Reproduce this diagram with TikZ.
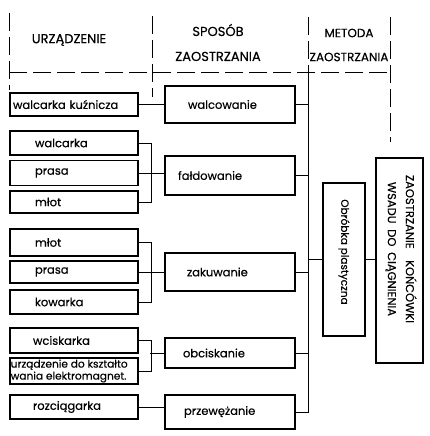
\documentclass[tikz,border=0pt]{standalone}
\usepackage{fontspec}
\setmainfont{Poppins}[FakeBold=0.4]
\begin{document}
\begin{tikzpicture}[x=1pt,y=-1pt,
  font=\fontsize{11.5}{13}\selectfont,
  box/.style={draw, line width=1.2pt, inner xsep=3pt, inner ysep=0pt},
  lbox/.style={box, minimum width=128pt, text width=122pt, align=left},
  rbox/.style={box, minimum width=130pt, text width=124pt, align=left},
  div/.style={line width=0.9pt, dash pattern=on 18pt off 6pt},
  con/.style={line width=1pt},
  head/.style={inner sep=0pt, align=center}]
\fill[white] (0,0) rectangle (430,436);
\useasboundingbox (0,0) rectangle (430,436);
% header
\draw[div] (9,13) -- (9,90);
\draw[div] (152,16) -- (152,97);
\draw[div] (308,17) -- (308,72);
\draw[div] (390,17) -- (390,142);
\draw[div] (9,72) -- (390,72);
\node[head, font=\fontsize{13}{15}\selectfont] (h1) at (69,40) {URZĄDZENIE};
\node[head, font=\fontsize{13}{25}\selectfont] (h2) at (218,42.5) {SPOSÓB\\ZAOSTRZANIA};
\node[head, font=\fontsize{12}{24}\selectfont] (h3) at (349,45) {METODA\\ZAOSTRZANIA};
% left column
\node[lbox, minimum height=23pt] (wk) at (74,104.5) {walcarka kuźnicza};
\node[lbox, minimum height=24pt] (wa) at (74,143) {\hspace*{22pt}walcarka};
\node[lbox, minimum height=25pt] (pr1) at (74,173) {\hspace*{22pt}prasa};
\node[lbox, minimum height=22pt] (ml1) at (74,202) {\hspace*{22pt}młot};
\node[lbox, minimum height=27pt] (ml2) at (74,242.5) {\hspace*{22pt}młot};
\node[lbox, minimum height=22pt] (pr2) at (74,272) {\hspace*{22pt}prasa};
\node[lbox, minimum height=24pt] (kow) at (74,302) {\hspace*{22pt}kowarka};
\node[lbox, minimum height=25pt] (wci) at (74,340.5) {\hspace*{20pt}wciskarka};
\node[box, minimum width=128pt, minimum height=26pt] (urz) at (74,371) {};
\node[inner sep=0pt, anchor=west, align=left, font=\fontsize{10.6}{12}\selectfont] (urzt) at (10.5,371) {urządzenie do kształto\\wania elektromagnet.};
\node[lbox, minimum height=24pt] (roz) at (74,407) {\hspace*{20pt}rozciągarka};
% middle column
\node[rbox, minimum height=37pt] (walc) at (230,104.5) {\hspace*{20pt}walcowanie};
\node[rbox, minimum height=39pt] (fald) at (230,175.5) {\hspace*{10pt}fałdowanie};
\node[rbox, minimum height=38pt] (zak) at (230,272) {\hspace*{19pt}zakuwanie};
\node[rbox, minimum height=30pt] (obc) at (230,353) {\hspace*{15pt}obciskanie};
\node[rbox, minimum height=34pt] (prz) at (230,412) {\hspace*{16pt}przewężanie};
% right
\node[box, minimum width=42pt, minimum height=153pt] (obr) at (344,259.5) {};
\node[rotate=-90, inner sep=0pt, font=\fontsize{10.5}{12}\selectfont] (obrt) at (344,252) {Obróbka plastyczna};
\node[box, minimum width=47pt, minimum height=205pt] (zao) at (399.5,260.5) {};
\node[rotate=-90, inner sep=0pt, align=center, font=\fontsize{11.5}{18}\selectfont] (zaot) at (401,249) {ZAOSTRZANIE\quad KOŃCÓWKI\\WSADU\enspace DO\enspace CIĄGNIENIA};
% connectors
\coordinate (bt) at (308,72);
\coordinate (bb) at (308,413);
\draw[con] (bt) -- (bb);
\draw[con] (wk.east) -- (walc.west);
\draw[con] (wa.east) -- ++(13,0) |- (ml1.east);
\draw[con] (pr1.east) -- (pr1.east -| fald.west);
\draw[con] (ml2.east) -- ++(13,0) |- (kow.east);
\draw[con] (pr2.east) -- (zak.west);
\draw[con] (wci.east) -- ++(13,0) |- (urz.east);
\draw[con] (obc.west) -- ++(-14,0);
\draw[con] (roz.east) -- (roz.east -| prz.west);
\draw[con] (walc.east) -- (walc.east -| bt);
\draw[con] (fald.east) -- (fald.east -| bt);
\draw[con] (zak.east) -- (zak.east -| bt);
\draw[con] (obc.east) -- (obc.east -| bt);
\draw[con] (prz.east) -- (prz.east -| bt);
\draw[con] (obr.west) -- (obr.west -| bt);
\draw[con] (obr.east) -- (obr.east -| zao.west);
\end{tikzpicture}
\end{document}
